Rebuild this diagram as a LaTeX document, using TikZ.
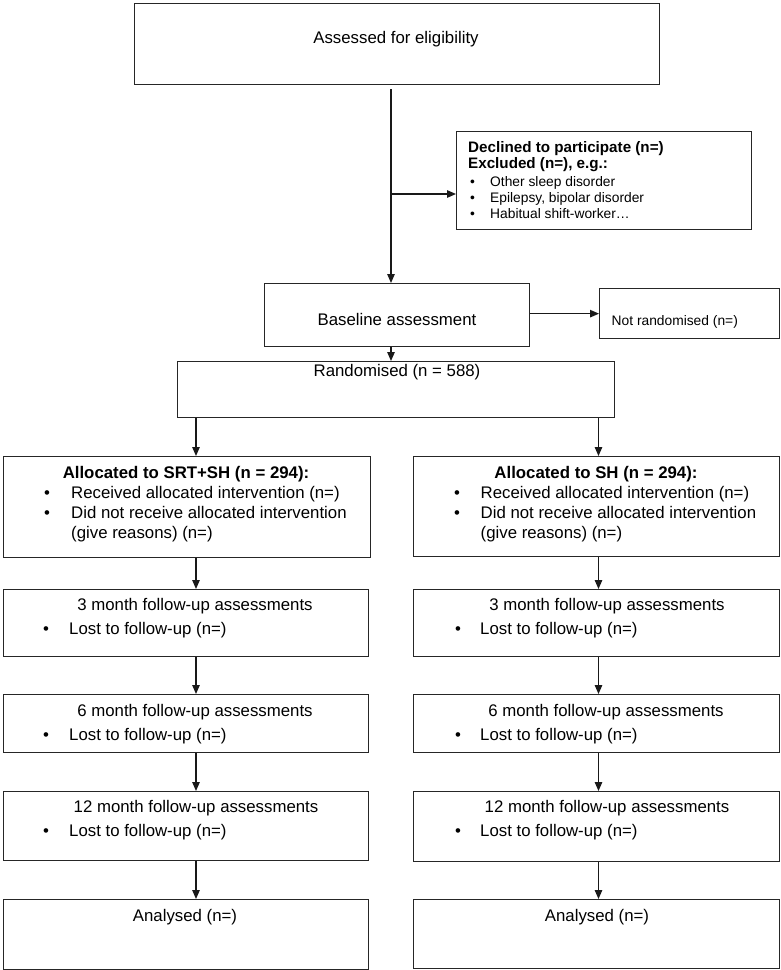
\documentclass[tikz,border=0pt]{standalone}
\usepackage{fontspec}
\setmainfont{Liberation Sans}
\usetikzlibrary{arrows.meta}
\begin{document}
\begin{tikzpicture}[x=1pt,y=-1pt,
  box/.style={draw=black!85, line width=1.3pt, anchor=north west, inner sep=0pt},
  txt/.style={inner sep=0pt, anchor=base, font=\fontsize{16.8}{20}\selectfont},
  txtl/.style={inner sep=0pt, anchor=base west, font=\fontsize{16.8}{20}\selectfont},
  btitle/.style={inner sep=0pt, anchor=base, font=\fontsize{16.8}{20}\selectfont\bfseries},
  dtitle/.style={inner sep=0pt, anchor=base west, font=\fontsize{15.2}{18}\selectfont\bfseries},
  small/.style={inner sep=0pt, anchor=base west, font=\fontsize{13.8}{16}\selectfont},
  arr/.style={draw=black!90, line width=1.2pt, -{Triangle[length=9pt,width=7.5pt]}},
  ln/.style={draw=black!90, line width=1.2pt}]
\useasboundingbox (0,0) rectangle (781,970);

% ---------- top part ----------
\node[box, minimum width=525pt, minimum height=81pt] (top) at (134,3) {};
\node[txt] (toptxt) at (396,43) {Assessed for eligibility};

\node[box, minimum width=295pt, minimum height=98pt] (decl) at (456,131) {};
\node[dtitle] (d1) at (468,152) {Declined to participate (n=)};
\node[dtitle] (d2) at (468,168) {Excluded (n=), e.g.:};
\node[small] (db1) at (470,186) {•};
\node[small] (dt1) at (490,186) {Other sleep disorder};
\node[small] (db2) at (470,202) {•};
\node[small] (dt2) at (490,202) {Epilepsy, bipolar disorder};
\node[small] (db3) at (470,218) {•};
\node[small] (dt3) at (490,218) {Habitual shift-worker…};

\node[box, minimum width=265pt, minimum height=63pt] (base) at (264,283) {};
\node[txt] (basetxt) at (397,325) {Baseline assessment};

\node[box, minimum width=180pt, minimum height=50pt] (nr) at (599,288) {};
\node[inner sep=0pt, anchor=base west, font=\fontsize{13.8}{16}\selectfont] (nrtxt) at (611.5,325) {Not randomised (n=)};

\node[box, minimum width=437pt, minimum height=56pt] (rand) at (177,361) {};
\node[txt] (randtxt) at (397,376) {Randomised (n = 588)};

\coordinate (mx) at (391,0);
\coordinate (br) at (391,194);
\coordinate (lx) at (196,0);
\coordinate (rx) at (598.5,0);

% ---------- allocation ----------
\node[box, minimum width=367pt, minimum height=101pt] (la) at (3,456) {};
\node[btitle] (lat) at (186,478) {Allocated to SRT+SH (n = 294):};
\node[txtl] (lab1) at (44,498) {•};
\node[txtl] (lai1) at (71,498) {Received allocated intervention (n=)};
\node[txtl] (lab2) at (44,518) {•};
\node[txtl] (lai2) at (71,518) {Did not receive allocated intervention};
\node[txtl] (lai3) at (71,538) {(give reasons) (n=)};

\node[box, minimum width=366pt, minimum height=100pt] (ra) at (413,456) {};
\node[btitle] (rat) at (596,478) {Allocated to SH (n = 294):};
\node[txtl] (rab1) at (454,498) {•};
\node[txtl] (rai1) at (480.5,498) {Received allocated intervention (n=)};
\node[txtl] (rab2) at (454,518) {•};
\node[txtl] (rai2) at (480.5,518) {Did not receive allocated intervention};
\node[txtl] (rai3) at (480.5,538) {(give reasons) (n=)};

% ---------- 3 month ----------
\node[box, minimum width=365pt, minimum height=67pt] (l3) at (3,589) {};
\node[txt] (l3t) at (195,610) {3 month follow-up assessments};
\node[txtl] (l3b) at (43,634) {•};
\node[txtl] (l3i) at (69,634) {Lost to follow-up (n=)};

\node[box, minimum width=366pt, minimum height=67pt] (r3) at (413,589) {};
\node[txt] (r3t) at (607,610) {3 month follow-up assessments};
\node[txtl] (r3b) at (455,634) {•};
\node[txtl] (r3i) at (480,634) {Lost to follow-up (n=)};

% ---------- 6 month ----------
\node[box, minimum width=365pt, minimum height=58pt] (l6) at (3,694) {};
\node[txt] (l6t) at (195,716) {6 month follow-up assessments};
\node[txtl] (l6b) at (43,740) {•};
\node[txtl] (l6i) at (69,740) {Lost to follow-up (n=)};

\node[box, minimum width=366pt, minimum height=58pt] (r6) at (413,694) {};
\node[txt] (r6t) at (606,716) {6 month follow-up assessments};
\node[txtl] (r6b) at (455,740) {•};
\node[txtl] (r6i) at (480,740) {Lost to follow-up (n=)};

% ---------- 12 month ----------
\node[box, minimum width=365pt, minimum height=69pt] (l12) at (3,791) {};
\node[txt] (l12t) at (196,812) {12 month follow-up assessments};
\node[txtl] (l12b) at (43,836.5) {•};
\node[txtl] (l12i) at (69,836.5) {Lost to follow-up (n=)};

\node[box, minimum width=366pt, minimum height=70pt] (r12) at (413,791) {};
\node[txt] (r12t) at (607,812.5) {12 month follow-up assessments};
\node[txtl] (r12b) at (455,836.5) {•};
\node[txtl] (r12i) at (480,836.5) {Lost to follow-up (n=)};

% ---------- analysed ----------
\node[box, minimum width=365pt, minimum height=70pt] (lan) at (3,899) {};
\node[txt] (lant) at (185,921) {Analysed (n=)};
\node[box, minimum width=366pt, minimum height=69pt] (ran) at (413,899) {};
\node[txt] (rant) at (597,921) {Analysed (n=)};

% ---------- connectors ----------
\draw[arr, shorten <=4pt] (top.south -| mx) -- (base.north -| mx);
\draw[arr] (br) -- (br -| decl.west);
\draw[arr] (nr.west -| base.east) -- (nr.west);
\draw[arr] (base.south -| mx) -- (rand.north -| mx);
\draw[arr] (rand.south -| lx) -- (la.north -| lx);
\draw[arr] (rand.south -| rx) -- (ra.north -| rx);
\draw[arr] (la.south -| lx) -- (l3.north -| lx);
\draw[arr] (ra.south -| rx) -- (r3.north -| rx);
\draw[arr] (l3.south -| lx) -- (l6.north -| lx);
\draw[arr] (r3.south -| rx) -- (r6.north -| rx);
\draw[arr] (l6.south -| lx) -- (l12.north -| lx);
\draw[arr] (r6.south -| rx) -- (r12.north -| rx);
\draw[arr] (l12.south -| lx) -- (lan.north -| lx);
\draw[arr] (r12.south -| rx) -- (ran.north -| rx);
\end{tikzpicture}
\end{document}
